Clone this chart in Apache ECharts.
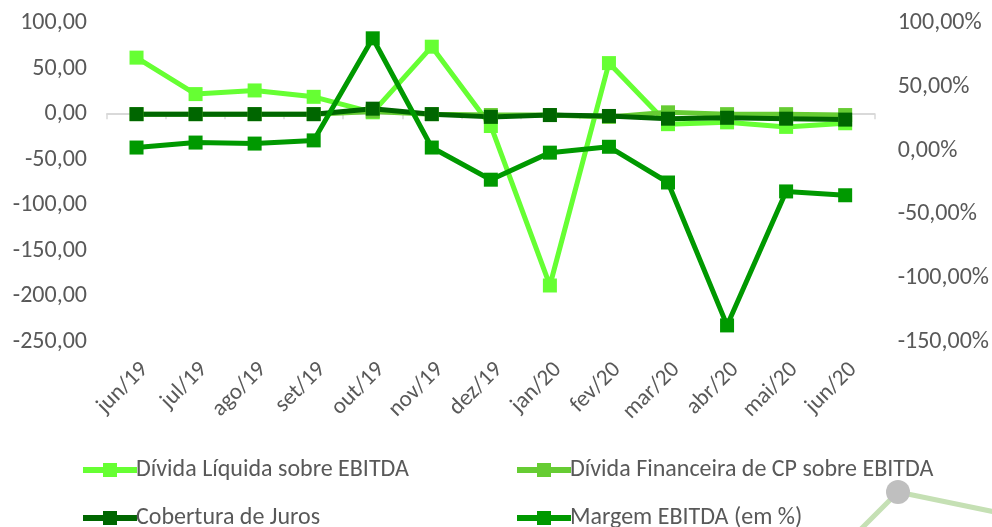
<!DOCTYPE html>
<html>
<head>
<meta charset="utf-8">
<script src="https://cdn.jsdelivr.net/npm/echarts@6/dist/echarts.min.js"></script>
<style>
  html, body { margin: 0; padding: 0; background: #fff; }
  #chart { width: 992px; height: 527px; }
</style>
</head>
<body>
<div id="chart"></div>
<script>
const meses = ['jun/19', 'jul/19', 'ago/19', 'set/19', 'out/19', 'nov/19', 'dez/19',
  'jan/20', 'fev/20', 'mar/20', 'abr/20', 'mai/20', 'jun/20']

// eixo da esquerda
const dividaLiquida = [62, 22, 26, 19, 2, 74, -13, -188, 56, -11, -9, -14, -10]
const dividaFinanceiraCP = [0, 0, 0, 0, 3, 0, -1, -1, -3, 2, 0, 0, -1]
const coberturaJuros = [0, 0, 0, 0, 6, 0, -3, -1, -2, -5, -4, -5, -6]
// eixo da direita (em %)
const margemEbitda = [2.4, 6.3, 5.5, 8, 88, 2.4, -22.8, -1.6, 3, -25, -137, -32, -35]

const nomes = ['Dívida Líquida sobre EBITDA', 'Dívida Financeira de CP sobre EBITDA',
  'Cobertura de Juros', 'Margem EBITDA (em %)']
const cores = ['#66FF33', '#66CC33', '#006600', '#009900']

const fonte = 'Carlito, Lato, sans-serif'
const cinza = '#595959'

const fmt = v => v.toFixed(2).replace('.', ',')

const chart = echarts.init(document.getElementById('chart'))

function serie (i, dados, eixo) {
  return {
    name: nomes[i],
    type: 'line',
    yAxisIndex: eixo,
    data: dados,
    symbol: 'rect',
    symbolSize: 14,
    color: cores[i],
    lineStyle: { width: 5, color: cores[i] },
    itemStyle: { color: cores[i] },
    animation: false
  }
}

const posLegenda = [[78, 453], [512, 453], [78, 501], [512, 501]]
// linha grossa com quadrado no meio (como no Excel)
const iconeLegenda = 'path://M0,4H54V10H0Z M20,0H34V14H20Z'

const option = {
  textStyle: { fontFamily: fonte },
  grid: { left: 107, right: 117, top: 23, bottom: 185 },
  legend: nomes.map((n, i) => ({
    data: [{ name: n, icon: iconeLegenda }],
    left: posLegenda[i][0],
    top: posLegenda[i][1],
    itemWidth: 54,
    itemHeight: 14,
    textStyle: { fontFamily: fonte, fontSize: 24, color: cinza, padding: [0, 0, 0, -6] }
  })),
  xAxis: [
    {
      type: 'category',
      data: meses,
      position: 'bottom',
      axisLine: { show: false },
      axisTick: { show: false },
      axisLabel: {
        rotate: 45,
        interval: 0,
        margin: 16,
        verticalAlign: 'top',
        fontSize: 23,
        fontFamily: fonte,
        color: cinza
      }
    },
    {
      // linha do zero com as marcas
      type: 'category',
      data: meses,
      position: 'bottom',
      axisLine: { show: true, onZero: true, onZeroAxisIndex: 0, lineStyle: { color: '#D9D9D9', width: 2 } },
      axisTick: { show: true, length: 5, lineStyle: { color: '#D9D9D9', width: 1.5 } },
      axisLabel: { show: false }
    }
  ],
  yAxis: [
    {
      type: 'value',
      min: -250,
      max: 100,
      interval: 50,
      splitLine: { show: false },
      axisLine: { show: false },
      axisTick: { show: false },
      axisLabel: {
        margin: 20,
        fontSize: 24,
        fontFamily: fonte,
        color: cinza,
        formatter: v => fmt(v)
      }
    },
    {
      type: 'value',
      min: -150,
      max: 100,
      interval: 50,
      splitLine: { show: false },
      axisLine: { show: false },
      axisTick: { show: false },
      axisLabel: {
        margin: 23,
        fontSize: 24,
        fontFamily: fonte,
        color: cinza,
        formatter: v => fmt(v) + '%'
      }
    }
  ],
  series: [
    serie(0, dividaLiquida, 0),
    serie(1, dividaFinanceiraCP, 0),
    serie(2, coberturaJuros, 0),
    serie(3, margemEbitda, 1)
  ],
  graphic: [
    {
      type: 'polyline',
      shape: { points: [[860, 530], [898, 492], [995, 512]] },
      style: { stroke: '#C5E0B4', lineWidth: 5, fill: null }
    },
    {
      type: 'circle',
      shape: { cx: 898, cy: 492, r: 12 },
      style: { fill: '#BFBFBF' }
    }
  ]
}

chart.setOption(option)
window.addEventListener('resize', function () {
  chart.resize()
})
</script>
</body>
</html>
